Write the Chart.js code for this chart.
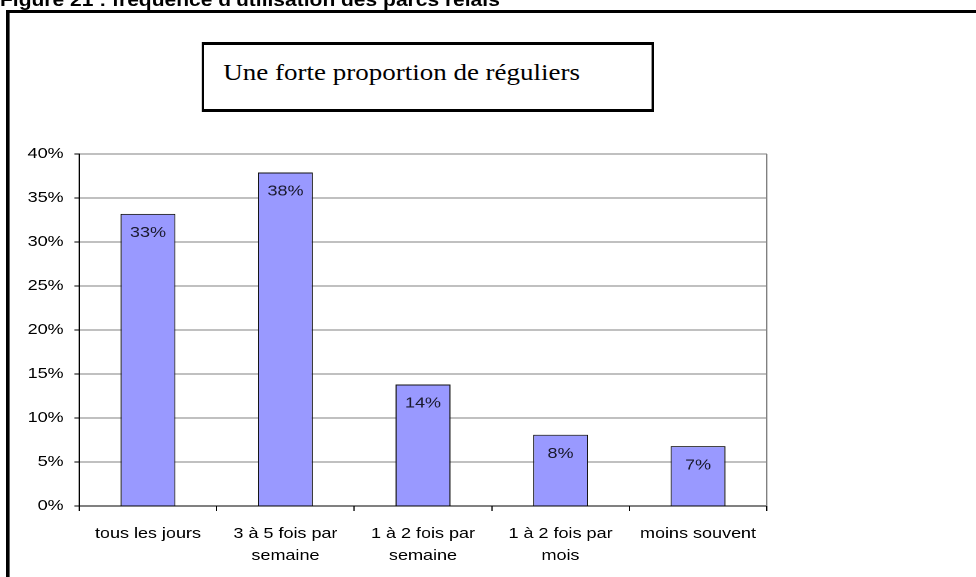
<!DOCTYPE html>
<html>
<head>
<meta charset="utf-8">
<script src="https://cdn.jsdelivr.net/npm/chart.js@4.4.0/dist/chart.umd.min.js"></script>
<style>
  html, body { margin: 0; padding: 0; background: #fff; overflow: hidden; }
  /* the original picture is stretched sideways, so the whole sheet is too */
  #sheet { position: absolute; left: 0; top: 0; width: 813px; height: 577px;
           transform: scaleX(1.2); transform-origin: 0 0; }
  #fig-title { position: absolute; left: 0; top: -10px; white-space: nowrap;
               font: bold 17.5px "Liberation Sans", Arial, sans-serif; color: #000; }
  #frame { position: absolute; left: 5px; top: 10px; width: 900px; height: 600px;
           border-left: 3px solid #000; border-top: 3px solid #000; }
  #note { position: absolute; left: 168px; top: 42px; width: 373px; height: 64px;
          border: 3px solid #000; border-left-width: 2.5px; border-right-width: 2.5px; background: #fff; }
  #note span { position: absolute; left: 16px; top: 15px; white-space: nowrap;
               font: 22.5px "Liberation Serif", "Times New Roman", serif; color: #000; }
  #chart { position: absolute; left: 0; top: 0; }
</style>
</head>
<body>
<div id="sheet">
  <div id="fig-title">Figure 21 : fréquence d'utilisation des parcs relais</div>
  <div id="frame"></div>
  <canvas id="chart" width="813" height="577"></canvas>
  <div id="note"><span>Une forte proportion de réguliers</span></div>
</div>
<script>
const categories = [
  ['tous les jours'],
  ['3 à 5 fois par', 'semaine'],
  ['1 à 2 fois par', 'semaine'],
  ['1 à 2 fois par', 'mois'],
  ['moins souvent']
];
const shares = [33.2, 37.9, 13.8, 8.1, 6.8];
const yTicks = [0, 5, 10, 15, 20, 25, 30, 35, 40];

// etiquettes dans les barres
const barLabels = {
  id: 'barLabels',
  afterDatasetsDraw(chart) {
    const ctx = chart.ctx;
    const meta = chart.getDatasetMeta(0);
    ctx.save();
    ctx.font = '15px "Liberation Sans", Arial, sans-serif';
    ctx.fillStyle = '#1a1a2e';
    ctx.textAlign = 'center';
    ctx.textBaseline = 'middle';
    meta.data.forEach((bar, i) => {
      ctx.fillText(Math.round(shares[i]) + '%', bar.x, bar.y + 19);
    });
    ctx.restore();
  }
};

// bord droit gris du cadre du graphique
const plotBorder = {
  id: 'plotBorder',
  beforeDatasetsDraw(chart) {
    const a = chart.chartArea;
    const ctx = chart.ctx;
    ctx.save();
    ctx.strokeStyle = '#808080';
    ctx.lineWidth = 1;
    ctx.beginPath();
    ctx.moveTo(a.right, a.top);
    ctx.lineTo(a.right, a.bottom);
    ctx.stroke();
    ctx.restore();
  }
};

new Chart(document.getElementById('chart'), {
  type: 'bar',
  data: {
    labels: categories,
    datasets: [{
      data: shares,
      backgroundColor: '#9999ff',
      borderColor: '#111',
      borderWidth: 1,
      barPercentage: 0.4,
      categoryPercentage: 1
    }]
  },
  options: {
    responsive: false,
    devicePixelRatio: 2,
    animation: false,
    layout: { padding: { top: 154, right: 174, left: 0, bottom: 0 } },
    plugins: { legend: { display: false }, tooltip: { enabled: false } },
    scales: {
      x: {
        afterFit: (s) => { s.height = 71; },
        grid: { offset: true, drawOnChartArea: false, tickLength: 5, color: '#000' },
        border: { color: '#000', width: 1 },
        ticks: {
          color: '#000', padding: 12,
          font: { family: '"Liberation Sans", Arial, sans-serif', size: 15, lineHeight: 1.45 },
          maxRotation: 0, autoSkip: false
        }
      },
      y: {
        min: 0, max: 40,
        afterFit: (s) => { s.width = 66; },
        afterBuildTicks: (s) => { s.ticks = yTicks.map(v => ({ value: v })); },
        grid: { color: '#808080', tickColor: '#000', tickLength: 4 },
        border: { color: '#000', width: 1 },
        ticks: {
          color: '#000', padding: 9,
          font: { family: '"Liberation Sans", Arial, sans-serif', size: 15 },
          callback: (v) => v + '%'
        }
      }
    }
  },
  plugins: [barLabels, plotBorder]
});
</script>
</body>
</html>
